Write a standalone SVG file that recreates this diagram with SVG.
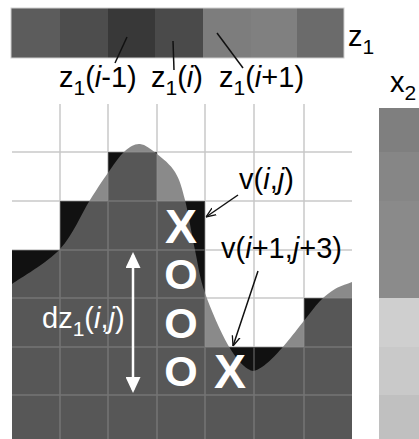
<svg xmlns="http://www.w3.org/2000/svg" width="419" height="439" viewBox="0 0 419 439">
<style>
text{font-family:"Liberation Sans",Arial,sans-serif;}
.lbl{font-size:29px;fill:#000;}
.wlbl{font-size:29px;fill:#fff;}
.mk{font-size:48px;font-weight:bold;fill:#fff;text-anchor:middle;}
.mo{font-size:43px;font-weight:bold;fill:#fff;text-anchor:middle;}
.grid{stroke:#919191;stroke-opacity:0.5;stroke-width:1.5;fill:none;}
.lead{stroke:#111;stroke-width:1.5;fill:none;}
</style>
<defs>
<path id="curve" d="M12,284 C20,278.2 47,263 60,249 C73,235 81.7,213.2 90,200 C98.3,186.8 104.2,178.2 110,170 C115.8,161.8 120,155.3 125,151 C130,146.7 134.7,143.5 140,144 C145.3,144.5 151.2,149.3 157,154 C162.8,158.7 170.3,164.3 175,172 C179.7,179.7 181.7,187 185,200 C188.3,213 191.7,234.5 195,250 C198.3,265.5 199.5,277.2 205,293 C210.5,308.8 220.8,332.3 228,345 C235.2,357.7 242.3,365.3 248,369 C253.7,372.7 256.3,370.5 262,367 C267.7,363.5 275.2,355.5 282,348 C288.8,340.5 296.7,329.8 303,322 C309.3,314.2 314.7,306.5 320,301 C325.3,295.5 329.7,292.2 335,289 C340.3,285.8 349.2,283.2 352,282 L352,439 L12,439 Z"/>
<clipPath id="stairs"><path d="M12,439 V250 H60 V201 H108 V152 H157 V201 H205 V347 H304 V298 H352 V439 Z"/></clipPath>
<marker id="ah" viewBox="0 0 10 10" refX="10" refY="5" markerWidth="10" markerHeight="10" markerUnits="userSpaceOnUse" orient="auto"><path d="M0,1 L10,5 L0,9" fill="none" stroke="#111" stroke-width="1.3"/></marker>
<marker id="wh" viewBox="0 0 16 15" refX="13" refY="7.5" markerWidth="16" markerHeight="15" markerUnits="userSpaceOnUse" orient="auto-start-reverse"><path d="M0,0 L16,7.5 L0,15 Z" fill="#fff"/></marker>
</defs>
<rect width="419" height="439" fill="#fff"/>

<g id="z1-bar">
<rect x="11" y="8" width="49" height="50" fill="#5c5c5c"/>
<rect x="60" y="8" width="48" height="50" fill="#4d4d4d"/>
<rect x="108" y="8" width="47" height="50" fill="#383838"/>
<rect x="155" y="8" width="48" height="50" fill="#4a4a4a"/>
<rect x="203" y="8" width="48" height="50" fill="#7d7d7d"/>
<rect x="251" y="8" width="46" height="50" fill="#808080"/>
<rect x="297" y="8" width="47" height="50" fill="#6b6b6b"/>
<rect x="11" y="8" width="333" height="50" fill="none" stroke="#cfcfcf" stroke-width="1"/>
<text class="lbl" x="348" y="46">z<tspan font-size="21" dy="8">1</tspan></text>
</g>

<g id="x2-bar">
<rect x="379" y="108" width="40" height="44" fill="#7f7f7f"/>
<rect x="379" y="152" width="40" height="49" fill="#868686"/>
<rect x="379" y="201" width="40" height="49" fill="#8a8a8a"/>
<rect x="379" y="250" width="40" height="48" fill="#8b8b8b"/>
<rect x="379" y="298" width="40" height="49" fill="#cfcfcf"/>
<rect x="379" y="347" width="40" height="48" fill="#c9c9c9"/>
<rect x="379" y="395" width="40" height="44" fill="#c0c0c0"/>
<text class="lbl" x="390" y="92">x<tspan font-size="21" dy="8">2</tspan></text>
</g>

<g id="grid-map">
<use href="#curve" fill="#8a8a8a"/>
<path d="M12,439 V250 H60 V201 H108 V152 H157 V201 H205 V347 H304 V298 H352 V439 Z" fill="#111"/>
<use href="#curve" fill="#575757" clip-path="url(#stairs)"/>
<path class="grid" d="M60,104 V439 M108,104 V439 M157,104 V439 M205,104 V439 M254,104 V439 M304,104 V439 M12,152 H352 M12,201 H352 M12,250 H352 M12,298 H352 M12,347 H352 M12,395 H352"/>
</g>

<g id="markers">
<text class="mk" x="181" y="243">X</text>
<text class="mo" x="181" y="289">O</text>
<text class="mo" x="181" y="338">O</text>
<text class="mo" x="181" y="386">O</text>
<text class="mk" x="230" y="388">X</text>
</g>

<g id="labels">
<text class="lbl" x="59" y="87">z<tspan font-size="21" dy="8">1</tspan><tspan dy="-8">(</tspan><tspan font-style="italic">i</tspan>-1)</text>
<text class="lbl" x="151" y="87">z<tspan font-size="21" dy="8">1</tspan><tspan dy="-8">(</tspan><tspan font-style="italic">i</tspan>)</text>
<text class="lbl" x="219" y="87">z<tspan font-size="21" dy="8">1</tspan><tspan dy="-8">(</tspan><tspan font-style="italic">i</tspan>+1)</text>
<text class="lbl" x="239" y="189">v(<tspan font-style="italic">i</tspan>,<tspan font-style="italic">j</tspan>)</text>
<text class="lbl" x="221" y="258">v(<tspan font-style="italic">i</tspan>+1,<tspan font-style="italic">j</tspan>+3)</text>
<text class="wlbl" x="42" y="328">dz<tspan font-size="21" dy="8">1</tspan><tspan dy="-8">(</tspan><tspan font-style="italic">i</tspan>,<tspan font-style="italic">j</tspan>)</text>
</g>

<g id="connectors">
<line class="lead" x1="127" y1="37" x2="115" y2="63"/>
<line class="lead" x1="173" y1="41" x2="174" y2="70"/>
<line class="lead" x1="217" y1="33" x2="243" y2="68"/>
<line class="lead" x1="238" y1="195" x2="206" y2="217" marker-end="url(#ah)"/>
<line class="lead" x1="258" y1="271" x2="233" y2="346" marker-end="url(#ah)"/>
<line x1="133" y1="255" x2="133" y2="390" stroke="#fff" stroke-width="2.5" marker-start="url(#wh)" marker-end="url(#wh)"/>
</g>
</svg>
